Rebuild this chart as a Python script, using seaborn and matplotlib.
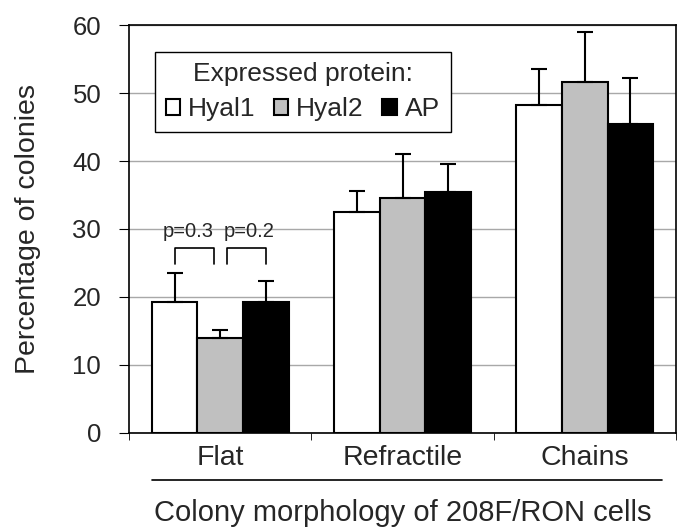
import numpy as np
import pandas as pd
import matplotlib
matplotlib.use('Agg')
import matplotlib.pyplot as plt
import seaborn as sns

# data
categories = ['Flat', 'Refractile', 'Chains']
proteins = ['Hyal1', 'Hyal2', 'AP']
colors = ['#ffffff', '#c0c0c0', '#000000']

hyal1 = [19.2, 32.5, 48.2]
hyal2 = [13.9, 34.5, 51.6]
ap = [19.3, 35.4, 45.5]
hyal1_err = [4.3, 3.1, 5.4]
hyal2_err = [1.2, 6.6, 7.3]
ap_err = [3.1, 4.1, 6.7]
p_labels = ['p=0.3', 'p=0.2']

df = pd.DataFrame({
    'morphology': categories * 3,
    'protein': [p for p in proteins for _ in categories],
    'percent': hyal1 + hyal2 + ap,
})
errs = [hyal1_err, hyal2_err, ap_err]

sns.set_style('white')
plt.rcParams['font.family'] = ['Liberation Sans', 'DejaVu Sans']

fig = plt.figure(figsize=(6.85, 5.32), dpi=100)
ax = fig.add_axes([0.1883, 0.1861, 0.7986, 0.7669])

sns.barplot(data=df, x='morphology', y='percent', hue='protein', order=categories,
            hue_order=proteins, palette=colors, edgecolor='black', linewidth=1.5,
            width=0.75, gap=0, errorbar=None, ax=ax, zorder=2)

# upper error bars only
centers = []
for cont, err in zip(ax.containers, errs):
    xs = [b.get_x() + b.get_width() / 2 for b in cont]
    ys = [b.get_height() for b in cont]
    centers.append(xs)
    ax.errorbar(xs, ys, yerr=[np.zeros(len(err)), err], fmt='none', ecolor='black',
                elinewidth=1.5, capsize=6, capthick=1.5, zorder=3)

# p-value brackets over Flat
gap = 0.036
lo, hi = max(hyal1[0] + hyal1_err[0], ap[0] + ap_err[0]) + 1.4, 27.2
x1, x2, x3 = centers[0][0], centers[1][0], centers[2][0]
for (a, b), lab, shift in zip([(x1, x2 - gap), (x2 + gap, x3)], p_labels, [-0.035, 0.015]):
    ax.plot([a, a, b, b], [lo, hi, hi, lo], color='black', lw=1.2, zorder=3)
    ax.text((a + b) / 2 + shift, hi + 2.4, lab, ha='center', va='center', fontsize=14.5)

ax.set_ylim(0, 60)
ax.set_xlim(-0.5, 2.5)
ax.set_yticks(range(0, 61, 10))
ax.yaxis.grid(True, color='#a8a8a8', lw=1)
ax.set_axisbelow(True)
for s in ax.spines.values():
    s.set_visible(True)
    s.set_color('black')
    s.set_linewidth(1.2)

ax.set_xticks([-0.5, 0.5, 1.5, 2.5], minor=True)
ax.tick_params(axis='x', which='minor', length=5, direction='out', color='black', bottom=True)
ax.tick_params(axis='x', which='major', length=0, pad=9, labelsize=20.5)
ax.tick_params(axis='y', length=7, direction='out', color='black', pad=13, labelsize=18.5, left=True)

ax.set_ylabel('Percentage of colonies', fontsize=20.5, labelpad=23)
ax.set_xlabel('Colony morphology of 208F/RON cells', fontsize=21, labelpad=20)
ax.plot([0.042, 0.974], [-0.115, -0.115], transform=ax.transAxes, clip_on=False,
        color='black', lw=1.2)

handles, labels = ax.get_legend_handles_labels()
leg = ax.legend(handles, labels, title='Expressed protein:', ncol=3, loc='upper left',
                bbox_to_anchor=(0.0475, 0.934), frameon=True, fancybox=False,
                edgecolor='black', framealpha=1, fontsize=19, title_fontsize=19,
                handlelength=0.55, handleheight=0.55, handletextpad=0.3,
                columnspacing=0.7, borderaxespad=0, borderpad=0.4, labelspacing=0.4)
leg.get_frame().set_linewidth(1)

fig.savefig('out.png', dpi=100)
